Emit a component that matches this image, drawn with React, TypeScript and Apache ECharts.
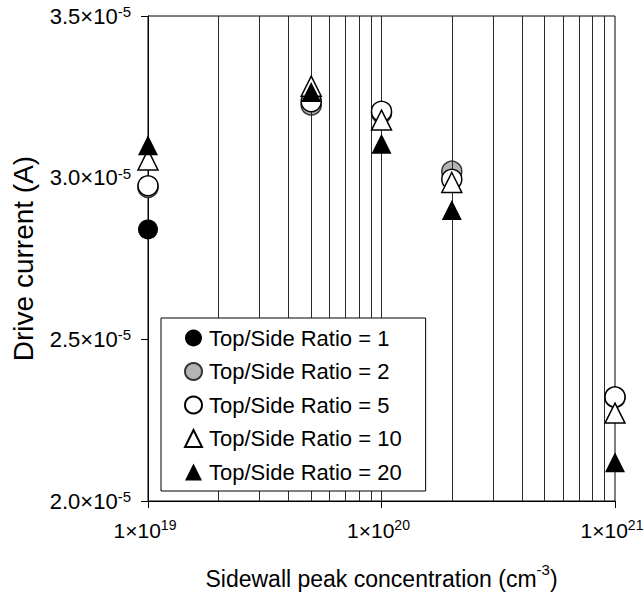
import React, { useEffect, useRef } from "react";
import * as echarts from "echarts";

const concentrations = [1e19, 5e19, 1e20, 2e20, 1e21];
const ratio1 = [2.84e-5, 3.235e-5, 3.2e-5, 3.01e-5, 2.32e-5];
const ratio2 = [2.97e-5, 3.225e-5, 3.2e-5, 3.02e-5, 2.32e-5];
const ratio5 = [2.975e-5, 3.235e-5, 3.205e-5, 2.995e-5, 2.322e-5];
const ratio10 = [3.055e-5, 3.283e-5, 3.178e-5, 2.985e-5, 2.272e-5];
const ratio20 = [3.1e-5, 3.265e-5, 3.105e-5, 2.9e-5, 2.12e-5];
const seriesNames = [
  "Top/Side Ratio = 1",
  "Top/Side Ratio = 2",
  "Top/Side Ratio = 5",
  "Top/Side Ratio = 10",
  "Top/Side Ratio = 20",
];
const gridValues = [
  2e19, 3e19, 4e19, 5e19, 6e19, 7e19, 8e19, 9e19, 1e20,
  2e20, 3e20, 4e20, 5e20, 6e20, 7e20, 8e20, 9e20,
];
const yMin = 2.0e-5;
const yMax = 3.5e-5;
const yStep = 0.5e-5;

const FONT = "Liberation Sans, Arial, sans-serif";

export default function App() {
  const ref = useRef<HTMLDivElement>(null);
  useEffect(() => {
    if (!ref.current) return;
    document.body.style.margin = "0";
    const chart = echarts.init(ref.current, undefined, { renderer: "svg" });
    const toPts = (arr: number[]) => concentrations.map((x, i) => [x, arr[i]]);
    const styles = [
      { symbol: "circle", color: "#000", borderColor: "#000", borderWidth: 0 },
      { symbol: "circle", color: "#b4b4b4", borderColor: "#333", borderWidth: 1.5 },
      { symbol: "circle", color: "#fff", borderColor: "#000", borderWidth: 1.5 },
      { symbol: "triangle", color: "#fff", borderColor: "#000", borderWidth: 1.5 },
      { symbol: "triangle", color: "#000", borderColor: "#000", borderWidth: 0 },
    ];
    const datas = [ratio1, ratio2, ratio5, ratio10, ratio20];
    const scatter = datas.map((d, i) => ({
      type: "scatter",
      name: seriesNames[i],
      data: toPts(d),
      symbol: styles[i].symbol,
      symbolSize: 20,
      z: 3 + i,
      itemStyle: {
        color: styles[i].color,
        borderColor: styles[i].borderColor,
        borderWidth: styles[i].borderWidth,
        opacity: 1,
      },
    }));
    chart.setOption({
      animation: false,
      backgroundColor: "#fff",
      textStyle: { fontFamily: FONT, color: "#000" },
      grid: {
        left: 148,
        right: 29,
        top: 16,
        bottom: 92,
        containLabel: false,
        outerBoundsMode: "none",
        show: true,
        borderColor: "#000",
        borderWidth: 1,
        backgroundColor: "transparent",
      },
      legend: {
        data: seriesNames,
        orient: "vertical",
        left: 161,
        top: 318,
        padding: [9, 24, 8, 23],
        itemGap: 11.5,
        itemWidth: 17,
        itemHeight: 17,
        backgroundColor: "#fff",
        borderColor: "#000",
        borderWidth: 1,
        borderRadius: 0,
        selectedMode: false,
        z: 20,
        textStyle: {
          fontFamily: FONT,
          fontSize: 22,
          lineHeight: 22,
          color: "#000",
          padding: [0, 0, 0, 2],
        },
      },
      xAxis: {
        type: "log",
        logBase: 10,
        min: 1e19,
        max: 1e21,
        name: "{a|Sidewall peak concentration (cm}{b|-3}{a|)}",
        nameLocation: "middle",
        nameGap: 61,
        nameTextStyle: {
          fontFamily: FONT,
          color: "#000",
          rich: {
            a: { fontSize: 23, fontFamily: FONT, color: "#000", lineHeight: 28, verticalAlign: "bottom" },
            b: { fontSize: 15, fontFamily: FONT, color: "#000", verticalAlign: "top", lineHeight: 15 },
          },
        },
        axisLine: { show: true, lineStyle: { color: "#000", width: 1 } },
        axisTick: { show: true, inside: false, length: 7, lineStyle: { color: "#000" } },
        splitLine: { show: false },
        minorTick: { show: false },
        axisLabel: {
          margin: 17,
          formatter: (v: number) => `{a|1×10}{b|${Math.round(Math.log10(v))}}`,
          rich: {
            a: { fontSize: 21, fontFamily: FONT, color: "#000", lineHeight: 24, verticalAlign: "middle" },
            b: { fontSize: 14, fontFamily: FONT, color: "#000", verticalAlign: "top", lineHeight: 14, padding: [0, 6, 0, 0] },
          },
        },
      },
      yAxis: {
        type: "value",
        min: yMin,
        max: yMax,
        interval: yStep,
        name: "Drive current (A)",
        nameLocation: "middle",
        nameGap: 111,
        nameTextStyle: { fontFamily: FONT, fontSize: 28, color: "#000" },
        axisLine: { show: true, lineStyle: { color: "#000", width: 1 } },
        axisTick: { show: true, inside: false, length: 7, lineStyle: { color: "#000" } },
        splitLine: { show: false },
        axisLabel: {
          margin: 17,
          formatter: (v: number) => `{a|${(v / 1e-5).toFixed(1)}×10}{b|-5}`,
          rich: {
            a: { fontSize: 22, fontFamily: FONT, color: "#000", lineHeight: 24, verticalAlign: "middle" },
            b: { fontSize: 15, fontFamily: FONT, color: "#000", verticalAlign: "top", lineHeight: 15 },
          },
        },
      },
      series: [
        {
          type: "scatter",
          name: "grid",
          data: [],
          z: 1,
          silent: true,
          markLine: {
            silent: true,
            symbol: ["none", "none"],
            label: { show: false },
            lineStyle: { color: "#2a2a2a", width: 1, type: "solid" },
            emphasis: { disabled: true },
            data: gridValues.map((v) => ({ xAxis: v })),
          },
        },
        ...scatter,
      ],
    });
    return () => chart.dispose();
  }, []);
  return <div ref={ref} style={{ width: 644, height: 593 }} />;
}
